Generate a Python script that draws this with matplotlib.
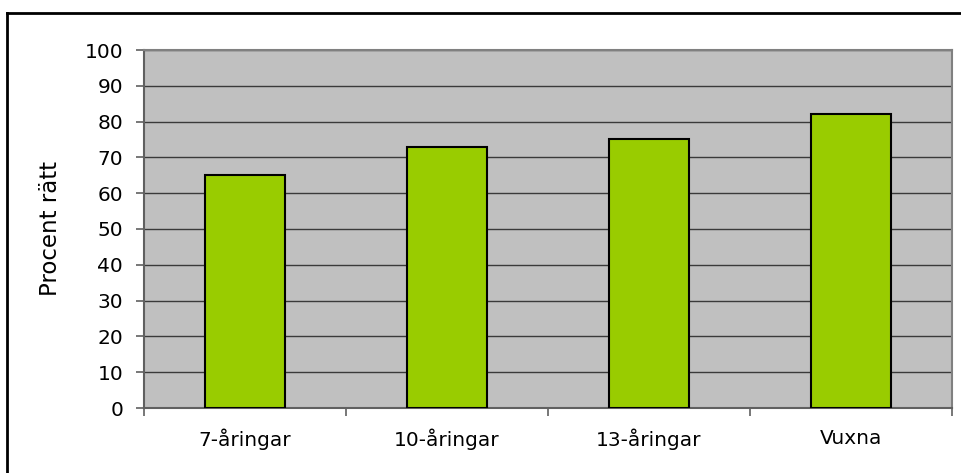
import matplotlib.pyplot as plt
from matplotlib.lines import Line2D

# data
categories = ['7-åringar', '10-åringar', '13-åringar', 'Vuxna']
values = [65, 73, 75, 82]
yticks = list(range(0, 101, 10))

plt.rcParams['font.family'] = ['DejaVu Sans']

fig = plt.figure(figsize=(9.62, 4.73), dpi=100)
ax = fig.add_axes([144 / 962, 65 / 473, 808 / 962, 358 / 473])

ax.set_facecolor('#C0C0C0')
ax.bar(range(len(categories)), values, width=0.4, color='#99CC00',
       edgecolor='black', linewidth=1.5, zorder=3)

ax.set_xlim(-0.5, len(categories) - 0.5)
ax.set_ylim(0, 100)
ax.set_yticks(yticks)
ax.yaxis.grid(True, color='#3a3a3a', linewidth=1)
ax.set_axisbelow(True)

# category labels centered, tick marks between categories
ax.set_xticks(range(len(categories)))
ax.set_xticklabels(categories)
ax.set_xticks([i - 0.5 for i in range(len(categories) + 1)], minor=True)
ax.tick_params(axis='x', which='major', length=0, pad=15, labelsize=14.5)
ax.tick_params(axis='x', which='minor', length=6, width=1.2, color='#606060')
ax.tick_params(axis='y', length=6, width=1.2, color='#606060', pad=9, labelsize=14.5)

for s in ['top', 'right']:
    ax.spines[s].set_color('#808080')
    ax.spines[s].set_linewidth(1.5)
for s in ['left', 'bottom']:
    ax.spines[s].set_color('#606060')
    ax.spines[s].set_linewidth(1.5)

ax.set_ylabel('Procent rätt', fontsize=16.5, va='center')
ax.yaxis.set_label_coords(-0.116, 0.5)

# outer frame (only top and left edges are inside the image)
fig.add_artist(Line2D([7.5 / 962, 1.0], [1 - 13 / 473, 1 - 13 / 473],
                      transform=fig.transFigure, color='black', linewidth=2))
fig.add_artist(Line2D([7.5 / 962, 7.5 / 962], [0.0, 1 - 13 / 473],
                      transform=fig.transFigure, color='black', linewidth=2))

fig.savefig('out.png', dpi=100, facecolor='white')
